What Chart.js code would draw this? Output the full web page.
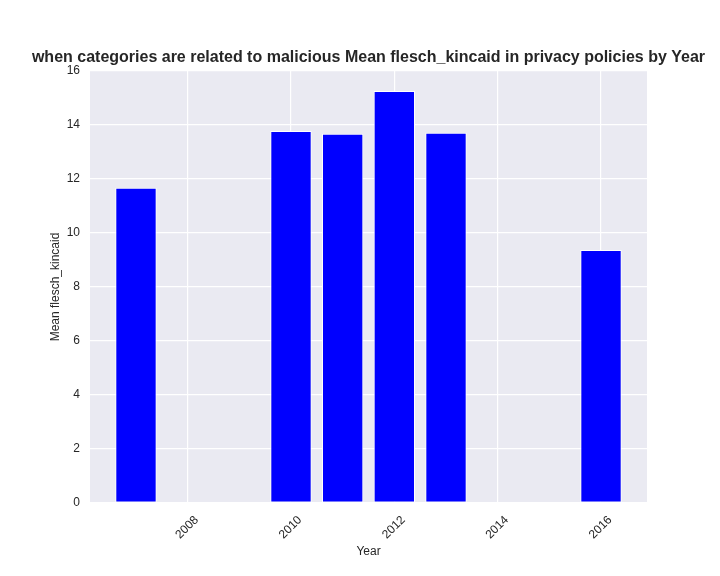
<!DOCTYPE html>
<html>
<head>
<meta charset="utf-8">
<script src="https://cdn.jsdelivr.net/npm/chart.js@4"></script>
<style>
  html, body { margin: 0; padding: 0; background: #fff; }
  #wrap { width: 720px; height: 576px; }
</style>
</head>
<body>
<div id="wrap"><canvas id="chart"></canvas></div>
<script>
// ─── DATA ──────────────────────────────────────────────────
const years = [2007, 2010, 2011, 2012, 2013, 2016];
const meanFK = [11.68, 13.78, 13.68, 15.26, 13.71, 9.37];
const xTicks = [2008, 2010, 2012, 2014, 2016];
const yTicks = [0, 2, 4, 6, 8, 10, 12, 14, 16];

const TITLE = 'when categories are related to malicious Mean flesch_kincaid in privacy policies by Year';
const TEXT = '#262626';
const FONT = '"Liberation Sans", Arial, sans-serif';

// seaborn-like plot background
const plotBg = {
  id: 'plotBg',
  beforeDraw(chart) {
    const { ctx, chartArea: a } = chart;
    ctx.save();
    ctx.fillStyle = '#EAEAF2';
    ctx.fillRect(a.left, a.top, a.right - a.left, a.bottom - a.top);
    ctx.restore();
  }
};

// title centred over the axes, allowed to run past them (like matplotlib)
const axesTitle = {
  id: 'axesTitle',
  afterDraw(chart) {
    const { ctx, chartArea: a } = chart;
    ctx.save();
    ctx.fillStyle = TEXT;
    ctx.font = 'bold 16px ' + FONT;
    ctx.textAlign = 'center';
    ctx.textBaseline = 'middle';
    ctx.fillText(TITLE, (a.left + a.right) / 2, a.top - 13);
    ctx.restore();
  }
};

const ctx = document.getElementById('chart').getContext('2d');
new Chart(ctx, {
  type: 'bar',
  data: {
    datasets: [{
      data: years.map((y, i) => ({ x: y, y: meanFK[i] })),
      backgroundColor: '#0000FF',
      borderColor: '#FFFFFF',
      borderWidth: 1,
      borderSkipped: false,
      categoryPercentage: 1,
      barPercentage: 0.8
    }]
  },
  options: {
    responsive: true,
    maintainAspectRatio: false,
    animation: false,
    layout: { padding: { left: 48, right: 73, top: 71, bottom: 17 } },
    plugins: {
      legend: { display: false },
      tooltip: { enabled: false },
      title: { display: false }
    },
    scales: {
      x: {
        type: 'linear',
        min: 2006.11,
        max: 2016.89,
        offset: false,
        afterBuildTicks: s => { s.ticks = xTicks.map(v => ({ value: v })); },
        afterFit: s => { s.height = 56; },
        ticks: {
          color: TEXT,
          font: { family: FONT, size: 12 },
          minRotation: 45,
          maxRotation: 45,
          labelOffset: 9,
          padding: 10,
          callback: v => String(v)
        },
        grid: { color: '#FFFFFF', lineWidth: 1.2, drawTicks: false, offset: false },
        border: { display: false },
        title: {
          display: true,
          text: 'Year',
          color: TEXT,
          font: { family: FONT, size: 12 },
          padding: 0
        }
      },
      y: {
        min: 0,
        max: 16,
        afterBuildTicks: s => { s.ticks = yTicks.map(v => ({ value: v })); },
        afterFit: s => { s.width = 42; },
        ticks: {
          color: TEXT,
          font: { family: FONT, size: 12 },
          padding: 10
        },
        grid: { color: '#FFFFFF', lineWidth: 1.2, drawTicks: false },
        border: { display: false },
        title: {
          display: true,
          text: 'Mean flesch_kincaid',
          color: TEXT,
          font: { family: FONT, size: 12 },
          padding: 0
        }
      }
    }
  },
  plugins: [plotBg, axesTitle]
});
</script>
</body>
</html>
